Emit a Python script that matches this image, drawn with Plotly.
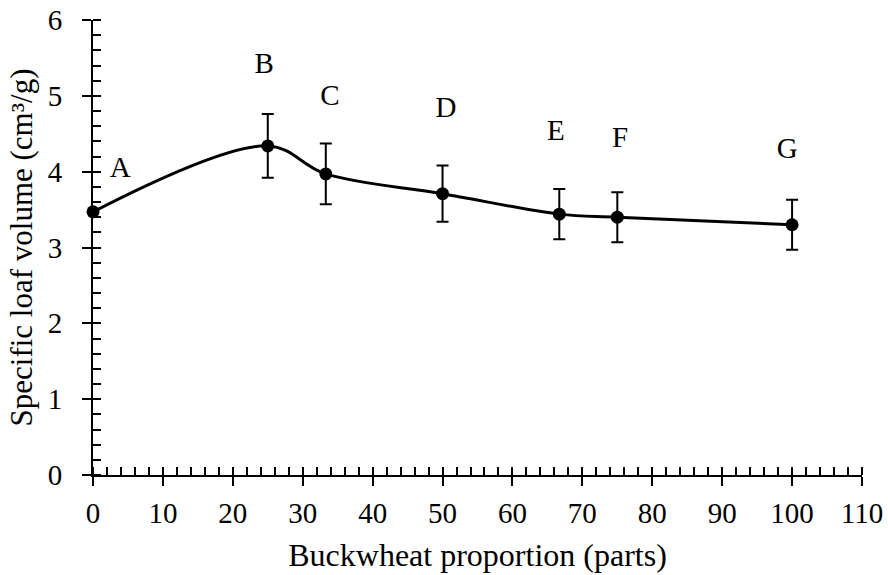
import plotly.graph_objects as go

proportion = [0, 25, 33.3, 50, 66.7, 75, 100]
volume = [3.47, 4.34, 3.97, 3.71, 3.44, 3.40, 3.30]
error = [0, 0.42, 0.40, 0.37, 0.33, 0.33, 0.33]
labels = ["A", "B", "C", "D", "E", "F", "G"]
label_x = [3.9, 24.5, 33.9, 50.5, 66.2, 75.4, 99.3]
label_y = [4.03, 5.40, 4.98, 4.82, 4.51, 4.42, 4.28]

font_family = "Liberation Serif"

fig = go.Figure()
fig.add_trace(go.Scatter(
    x=proportion, y=volume, mode="lines+markers",
    line=dict(color="black", width=3, shape="spline", smoothing=1),
    marker=dict(color="black", size=13),
    error_y=dict(type="data", array=error, visible=True, color="black",
                 thickness=2, width=6),
    showlegend=False, cliponaxis=False,
))
fig.add_trace(go.Scatter(
    x=label_x, y=label_y, mode="text", text=labels,
    textfont=dict(family=font_family, size=29, color="black"),
    showlegend=False, cliponaxis=False,
))
# helper invisible trace on overlay axes for inward major ticks
fig.add_trace(go.Scatter(x=[0, 110], y=[0, 6], xaxis="x2", yaxis="y2",
                         mode="markers", marker=dict(opacity=0),
                         showlegend=False, hoverinfo="skip"))

axis_common = dict(showgrid=False, zeroline=False, showline=True,
                   linecolor="black", linewidth=2, ticks="outside",
                   tickcolor="black", tickwidth=2, ticklen=9,
                   automargin=False,
                   tickfont=dict(family=font_family, size=29, color="black"))

fig.update_layout(
    width=888, height=575,
    margin=dict(l=93, r=26, t=20, b=100),
    paper_bgcolor="white", plot_bgcolor="white",
    xaxis=dict(range=[0, 110], dtick=10, tick0=0,
               minor=dict(ticks="inside", dtick=2, ticklen=8, tickwidth=2,
                          tickcolor="black"),
               ticklabelstandoff=2,
               title=dict(text="Buckwheat proportion (parts)",
                          font=dict(family=font_family, size=32, color="black"),
                          standoff=16),
               **axis_common),
    yaxis=dict(range=[0, 6], dtick=1, tick0=0,
               minor=dict(ticks="inside", dtick=0.2, ticklen=8, tickwidth=2,
                          tickcolor="black"),
               ticklabelstandoff=14,
               title=dict(text="Specific loaf volume (cm³/g)",
                          font=dict(family=font_family, size=31, color="black"),
                          standoff=6),
               **axis_common),
    xaxis2=dict(range=[0, 110], dtick=10, tick0=0, overlaying="x",
                showgrid=False, zeroline=False, showline=False,
                ticks="inside", ticklen=8, tickwidth=2, tickcolor="black",
                showticklabels=False, side="bottom", anchor="y2",
                automargin=False),
    yaxis2=dict(range=[0, 6], dtick=1, tick0=0, overlaying="y",
                showgrid=False, zeroline=False, showline=False,
                ticks="inside", ticklen=8, tickwidth=2, tickcolor="black",
                showticklabels=False, side="left", anchor="x2",
                automargin=False),
)

fig.write_html("out.html")
